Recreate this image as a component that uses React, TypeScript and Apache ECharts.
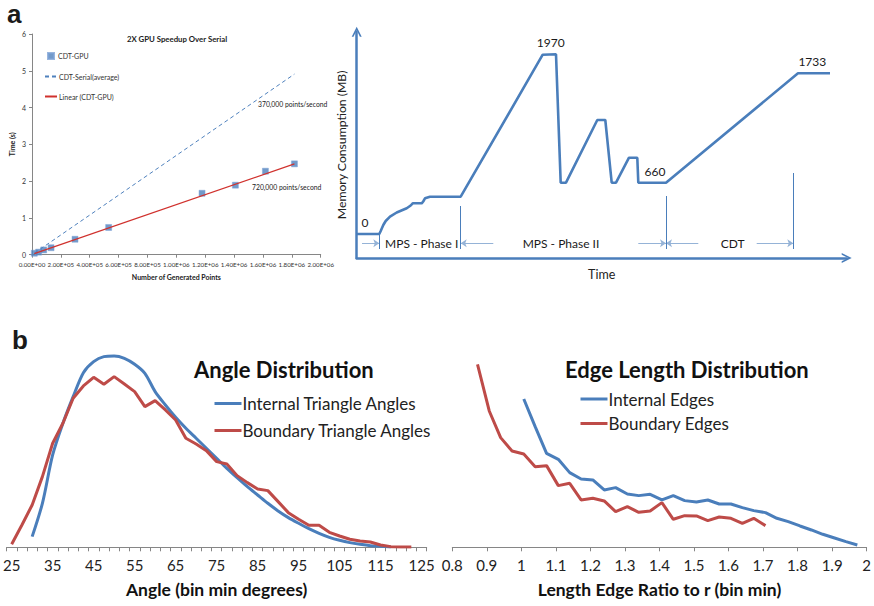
import React, { useEffect, useRef } from "react";
import * as echarts from "echarts";

const FONT = "Lato";

// ---- Panel a (left): GPU speedup ----
const gpuX = [16000, 46000, 81000, 132000, 298000, 531000, 1178000, 1409000, 1617000, 1818000];
const gpuY = [0.04, 0.07, 0.13, 0.19, 0.42, 0.74, 1.67, 1.89, 2.27, 2.47];
const serialX = [16000, 1818000];
const serialY = [0.04, 4.91];
const linearX = [16000, 1818000];
const linearY = [0.03, 2.47];

// ---- Panel a (right): memory consumption schematic ----
const memT = [0, 22.6, 24, 26.6, 29, 33.3, 40, 50, 54, 56, 65, 66.5, 68.3, 73.3, 104,
  186, 199.3, 204, 209.3, 240.6, 248.6, 255, 259.3, 272.3, 280.6, 281.6, 309.3, 441.3, 473.3];
const memH = [24, 24, 27, 33, 37, 41.3, 45.5, 49.7, 52.5, 54.7, 54.7, 56.5, 59.7, 61.3, 61.3,
  203.3, 203.7, 75.3, 75.3, 138, 138, 75.3, 75.3, 100.3, 100.3, 75.3, 75.3, 184.7, 184.7];
const phaseBounds = [22.6, 104, 309.3, 436.6];
const phaseBoundTops = [23, 52, 62, 85];
const arrowFrom = [5.3, 136.6, 281.6, 341.6, 400];
const arrowTo = [22.6, 104, 309.3, 309.3, 436.6];
const arrowLevel = 14.7;

// ---- Panel b (left): angle distribution ----
const angleBins = ["25", "27.5", "30", "32.5", "35", "37.5", "40", "42.5", "45", "47.5", "50", "52.5",
  "55", "57.5", "60", "62.5", "65", "67.5", "70", "72.5", "75", "77.5", "80", "82.5", "85", "87.5",
  "90", "92.5", "95", "97.5", "100", "102.5", "105", "107.5", "110", "112.5", "115", "117.5", "120",
  "122.5", "125"];
const internalAngles = [null, null, 32, 132, 277, 372, 452, 524, 557, 572, 574, 567, 549, 522, 467,
  427, 390, 357, 327, 297, 267, 237, 209, 182, 157, 132, 109, 89, 72, 56, 42, 30, 21, 14, 9, 5, 3, 1,
  null, null, null];
const boundaryAngles = [9, 67, 127, 212, 312, 372, 447, 484, 510, 489, 512, 490, 467, 422, 440, 412,
  382, 327, 310, 290, 257, 250, 215, 194, 175, 170, 137, 104, 84, 66, 66, 45, 34, 24, 19, 16, 7, 2, 1,
  1, null];

// ---- Panel b (right): edge length distribution ----
const boundaryEdgeX = [0.873, 0.907, 0.94, 0.973, 1.007, 1.04, 1.073, 1.107, 1.14, 1.173, 1.207, 1.24,
  1.273, 1.307, 1.34, 1.373, 1.407, 1.44, 1.473, 1.507, 1.54, 1.573, 1.607, 1.64, 1.673, 1.707];
const boundaryEdgeY = [549, 409, 329, 289, 280, 242, 245, 185, 192, 142, 147, 139, 107, 122, 105, 109,
  134, 84, 95, 94, 80, 91, 87, 72, 87, 65];
const internalEdgeX = [1.007, 1.04, 1.073, 1.107, 1.14, 1.173, 1.207, 1.24, 1.273, 1.307, 1.34, 1.373,
  1.407, 1.44, 1.473, 1.507, 1.54, 1.573, 1.607, 1.64, 1.673, 1.707, 1.74, 1.773, 1.807, 1.84, 1.873,
  1.907, 1.94, 1.973];
const internalEdgeY = [445, 362, 282, 264, 224, 205, 202, 172, 179, 160, 155, 159, 142, 155, 140, 136,
  142, 130, 130, 119, 110, 104, 87, 77, 64, 52, 39, 28, 17, 7];

const BLUE = "#4a7ebb";
const RED = "#be4b48";
const AXIS_GRAY = "#868686";

const zip = (a: number[], b: number[]) => a.map((v, i) => [v, b[i]]);

function sci(v: number): string {
  if (v === 0) return "0.00E+00";
  let e = Math.floor(Math.log10(v) + 1e-9);
  let m = v / Math.pow(10, e);
  if (m >= 9.995) { m /= 10; e += 1; }
  return `${m.toFixed(2)}E+${String(e).padStart(2, "0")}`;
}

const chevron = "path://M0,10 L5,0 L10,10 L8.2,10 L5,3.6 L1.8,10 Z";
const hiddenSymbol = { opacity: 0, borderWidth: 0 };

function buildOption(): any {
  const markData: any[] = [];
  arrowFrom.forEach((f, i) => {
    markData.push([
      { coord: [f, arrowLevel], symbol: "none", lineStyle: { color: "#95b3d7", width: 1, type: "solid" } },
      { coord: [arrowTo[i], arrowLevel], symbol: "arrow", symbolSize: 6 },
    ]);
  });
  phaseBounds.forEach((x, i) => {
    markData.push([
      { coord: [x, 9], symbol: "none", lineStyle: { color: BLUE, width: 1, type: "solid" } },
      { coord: [x, phaseBoundTops[i]], symbol: "none" },
    ]);
  });

  const txt = (text: string, x: number, y: number, font: string, align = "left") => ({
    type: "text",
    x,
    y,
    silent: true,
    style: { text, font, fill: "#1a1a1a", textAlign: align, textVerticalAlign: "middle" },
  });

  return {
    animation: false,
    backgroundColor: "#ffffff",
    textStyle: { fontFamily: FONT },
    title: [
      {
        text: "2X GPU Speedup Over Serial",
        left: 177,
        top: 35,
        textAlign: "center",
        padding: 0,
        textStyle: { fontFamily: FONT, fontSize: 7.8, fontWeight: "bold", color: "#222" },
      },
      {
        text: "Angle Distribution",
        left: 194,
        top: 358,
        padding: 0,
        textStyle: { fontFamily: FONT, fontSize: 22, fontWeight: "bold", color: "#111" },
      },
      {
        text: "Edge Length Distribution",
        left: 565,
        top: 358,
        padding: 0,
        textStyle: { fontFamily: FONT, fontSize: 22, fontWeight: "bold", color: "#111" },
      },
    ],
    legend: [
      {
        data: ["CDT-GPU"],
        left: 47,
        top: 52,
        itemWidth: 6,
        itemHeight: 6,
        itemGap: 0,
        padding: 0,
        selectedMode: false,
        textStyle: { fontFamily: FONT, fontSize: 7, color: "#333", padding: [0, 0, 0, -1] },
      },
      {
        data: ["CDT-Serial(average)", "Linear (CDT-GPU)"],
        orient: "vertical",
        left: 44,
        top: 73,
        itemWidth: 12,
        itemHeight: 8,
        itemGap: 13,
        padding: 0,
        selectedMode: false,
        itemStyle: hiddenSymbol,
        textStyle: { fontFamily: FONT, fontSize: 7, color: "#333", padding: [0, 0, 0, -3] },
      },
      {
        data: ["Internal Triangle Angles", "Boundary Triangle Angles"],
        orient: "vertical",
        left: 213,
        top: 395,
        itemWidth: 27,
        itemHeight: 14,
        itemGap: 10,
        padding: 0,
        selectedMode: false,
        itemStyle: hiddenSymbol,
        lineStyle: { width: 3 },
        textStyle: { fontFamily: FONT, fontSize: 17, color: "#222", padding: [0, 0, 0, -4] },
      },
      {
        data: ["Internal Edges", "Boundary Edges"],
        orient: "vertical",
        left: 579,
        top: 390.5,
        itemWidth: 27,
        itemHeight: 14,
        itemGap: 7.5,
        padding: 0,
        selectedMode: false,
        itemStyle: hiddenSymbol,
        lineStyle: { width: 3 },
        textStyle: { fontFamily: FONT, fontSize: 17, color: "#222", padding: [0, 0, 0, -4] },
      },
    ],
    grid: [
      { left: 32, top: 34, width: 288.7, height: 220.7 },
      { left: 356.7, top: 31.7, width: 490, height: 226.3 },
      { left: 3.3, top: 347.3, width: 423.4, height: 200 },
      { left: 452.3, top: 347.3, width: 416, height: 200 },
    ],
    xAxis: [
      {
        type: "value",
        gridIndex: 0,
        min: 0,
        max: 2000000,
        interval: 200000,
        splitLine: { show: false },
        axisLine: { lineStyle: { color: AXIS_GRAY } },
        axisTick: { show: true, length: 3, lineStyle: { color: AXIS_GRAY } },
        axisLabel: { fontFamily: FONT, fontSize: 6.2, color: "#333", margin: 7, formatter: sci },
        name: "Number of Generated Points",
        nameLocation: "middle",
        nameGap: 19,
        nameTextStyle: { fontFamily: FONT, fontSize: 7, fontWeight: "bold", color: "#222" },
      },
      {
        type: "value",
        gridIndex: 1,
        min: 0,
        max: 490,
        splitLine: { show: false },
        axisTick: { show: false },
        axisLabel: { show: false },
        axisLine: {
          show: true,
          symbol: ["none", chevron],
          symbolSize: [11, 10],
          lineStyle: { color: BLUE, width: 2.5 },
        },
        name: "Time",
        nameLocation: "middle",
        nameGap: 10,
        nameTextStyle: { fontFamily: FONT, fontSize: 12.5, color: "#222" },
      },
      {
        type: "category",
        gridIndex: 2,
        data: angleBins,
        boundaryGap: true,
        axisLine: { lineStyle: { color: AXIS_GRAY } },
        axisTick: { show: true, interval: 0, length: 4, lineStyle: { color: AXIS_GRAY } },
        axisLabel: { interval: 3, fontFamily: FONT, fontSize: 15, color: "#222", margin: 10 },
        splitLine: { show: false },
        name: "Angle (bin min degrees)",
        nameLocation: "middle",
        nameGap: 33,
        nameTextStyle: { fontFamily: FONT, fontSize: 17.5, fontWeight: "bold", color: "#111" },
      },
      {
        type: "value",
        gridIndex: 3,
        min: 0.8,
        max: 2.0,
        interval: 0.1,
        splitLine: { show: false },
        axisLine: { lineStyle: { color: AXIS_GRAY } },
        axisTick: { show: true, length: 4, lineStyle: { color: AXIS_GRAY } },
        axisLabel: { fontFamily: FONT, fontSize: 15, color: "#222", margin: 10 },
        name: "Length Edge Ratio to r (bin min)",
        nameLocation: "middle",
        nameGap: 33,
        nameTextStyle: { fontFamily: FONT, fontSize: 17.5, fontWeight: "bold", color: "#111" },
      },
    ],
    yAxis: [
      {
        type: "value",
        gridIndex: 0,
        min: 0,
        max: 6,
        interval: 1,
        splitLine: { show: false },
        axisLine: { show: true, lineStyle: { color: AXIS_GRAY } },
        axisTick: { show: true, length: 3, lineStyle: { color: AXIS_GRAY } },
        axisLabel: { fontFamily: FONT, fontSize: 7, color: "#333", margin: 6 },
        name: "Time (s)",
        nameLocation: "middle",
        nameGap: 17,
        nameTextStyle: { fontFamily: FONT, fontSize: 7, fontWeight: "bold", color: "#222" },
      },
      {
        type: "value",
        gridIndex: 1,
        min: 0,
        max: 226.3,
        splitLine: { show: false },
        axisTick: { show: false },
        axisLabel: { show: false },
        axisLine: {
          show: true,
          symbol: ["none", chevron],
          symbolSize: [11, 10],
          lineStyle: { color: BLUE, width: 2.5 },
        },
        name: "Memory Consumption (MB)",
        nameLocation: "middle",
        nameGap: 9,
        nameTextStyle: { fontFamily: FONT, fontSize: 12.2, color: "#222" },
      },
      { type: "value", gridIndex: 2, min: 0, max: 600, show: false },
      { type: "value", gridIndex: 3, min: 0, max: 600, show: false },
    ],
    series: [
      {
        name: "CDT-GPU",
        type: "scatter",
        xAxisIndex: 0,
        yAxisIndex: 0,
        data: zip(gpuX, gpuY),
        symbol: "rect",
        symbolSize: 6,
        itemStyle: { color: "#4f81bd", borderColor: "#7ea3d6", borderWidth: 0.6 },
        z: 2,
      },
      {
        name: "CDT-Serial(average)",
        type: "line",
        xAxisIndex: 0,
        yAxisIndex: 0,
        data: zip(serialX, serialY),
        symbol: "none",
        itemStyle: { color: "#4f81bd" },
        lineStyle: { color: "#4f81bd", width: 1, type: [4, 3] },
        z: 3,
      },
      {
        name: "Linear (CDT-GPU)",
        type: "line",
        xAxisIndex: 0,
        yAxisIndex: 0,
        data: zip(linearX, linearY),
        symbol: "none",
        itemStyle: { color: "#d0312d" },
        lineStyle: { color: "#d0312d", width: 1.2 },
        z: 4,
      },
      {
        name: "Memory",
        type: "line",
        xAxisIndex: 1,
        yAxisIndex: 1,
        data: zip(memT, memH),
        symbol: "none",
        lineStyle: { color: BLUE, width: 2.6 },
        markLine: {
          silent: true,
          animation: false,
          label: { show: false },
          symbol: ["none", "arrow"],
          symbolSize: 6,
          data: markData,
        },
      },
      {
        name: "Internal Triangle Angles",
        type: "line",
        xAxisIndex: 2,
        yAxisIndex: 2,
        data: internalAngles,
        smooth: 0.3,
        symbol: "none",
        itemStyle: { color: BLUE },
        lineStyle: { color: BLUE, width: 3 },
      },
      {
        name: "Boundary Triangle Angles",
        type: "line",
        xAxisIndex: 2,
        yAxisIndex: 2,
        data: boundaryAngles,
        symbol: "none",
        itemStyle: { color: RED },
        lineStyle: { color: RED, width: 3 },
      },
      {
        name: "Internal Edges",
        type: "line",
        xAxisIndex: 3,
        yAxisIndex: 3,
        data: zip(internalEdgeX, internalEdgeY),
        symbol: "none",
        itemStyle: { color: BLUE },
        lineStyle: { color: BLUE, width: 3 },
      },
      {
        name: "Boundary Edges",
        type: "line",
        xAxisIndex: 3,
        yAxisIndex: 3,
        data: zip(boundaryEdgeX, boundaryEdgeY),
        symbol: "none",
        itemStyle: { color: RED },
        lineStyle: { color: RED, width: 3 },
      },
    ],
    graphic: [
      txt("a", 7, 14, "bold 26px 'Liberation Sans'"),
      txt("b", 12, 340, "bold 26px 'Liberation Sans'"),
      txt("370,000 points/second", 258, 104, `6.8px ${FONT}`),
      txt("720,000 points/second", 252, 187, `6.8px ${FONT}`),
      txt("0", 365, 222, `12px ${FONT}`, "center"),
      txt("1970", 550.7, 42.7, `12px ${FONT}`, "center"),
      txt("660", 655, 171.7, `12px ${FONT}`, "center"),
      txt("1733", 812.3, 61.7, `12px ${FONT}`, "center"),
      txt("MPS - Phase I", 421.7, 243.3, `12px ${FONT}`, "center"),
      txt("MPS - Phase II", 561, 243.3, `12px ${FONT}`, "center"),
      txt("CDT", 732.7, 243.3, `12px ${FONT}`, "center"),
    ],
  };
}

export default function App() {
  const ref = useRef<HTMLDivElement>(null);
  useEffect(() => {
    if (!ref.current) return;
    const chart = echarts.init(ref.current, null, { renderer: "svg" });
    chart.setOption(buildOption());
    return () => chart.dispose();
  }, []);
  return (
    <div
      ref={ref}
      style={{ position: "absolute", left: 0, top: 0, width: 874, height: 606, background: "#fff" }}
    />
  );
}
